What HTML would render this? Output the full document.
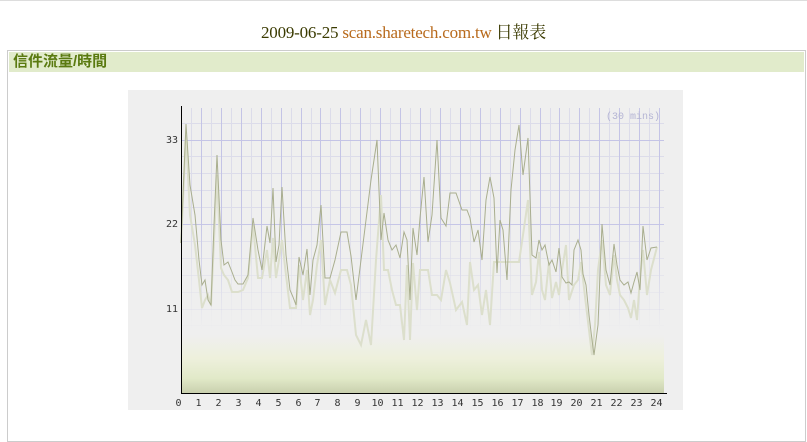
<!DOCTYPE html><html><head><style>
body{margin:0;background:#fff;width:807px;height:428px;overflow:hidden;font-family:"Liberation Serif","Noto Serif CJK SC",serif}
.top{position:absolute;left:0;top:0;width:807px;height:1px;background:#ddd}
.title{position:absolute;top:18px;left:0;width:807px;text-align:center;font-size:17px;color:#3a3a00;letter-spacing:-0.2px}
.title span{color:#b86a1c}
.box{position:absolute;left:7px;top:50px;width:797px;height:390px;border:1px solid #ccc}
.hdr{position:absolute;left:1px;top:1px;right:1px;height:20px;background:#e1ebcb;color:#5a7a10;font-weight:bold;font-size:15px;line-height:20px;padding-left:4px;font-family:"Liberation Sans","Noto Sans CJK TC",sans-serif}
svg{position:absolute;left:0;top:0}
</style></head><body>
<div class="top"></div>
<div class="title">2009-06-25 <span>scan.sharetech.com.tw</span> 日報表</div>
<div class="box"><div class="hdr">信件流量/時間</div></div>
<svg width="807" height="428">
<defs>
<linearGradient id="bg" x1="0" y1="0" x2="0" y2="1">
<stop offset="0" stop-color="#efefef"/><stop offset="0.4" stop-color="#eef0dc"/><stop offset="0.75" stop-color="#e1e9c8"/><stop offset="1" stop-color="#c9d0ae"/></linearGradient>
<linearGradient id="vma" x1="0" y1="0" x2="0" y2="1">
<stop offset="0" stop-color="#c4c4e6"/><stop offset="0.5" stop-color="#c4c4e6"/><stop offset="1" stop-color="#efefef"/></linearGradient>
<linearGradient id="vmi" x1="0" y1="0" x2="0" y2="1">
<stop offset="0" stop-color="#dcdcea"/><stop offset="0.5" stop-color="#dcdcea"/><stop offset="1" stop-color="#efefef"/></linearGradient>
</defs>
<rect x="128" y="90" width="555" height="320" fill="#efefef"/>
<rect x="182" y="335" width="482" height="58" fill="url(#bg)"/>
<g id="minor"></g>
<g id="major"></g>
<text x="660" y="119" font-family="Liberation Mono,monospace" font-size="10" fill="#b4b4d4" text-anchor="end">(30 mins)</text>
<polyline fill="none" stroke="#dcdfcc" stroke-width="2" points="181,243 186,135 190,215 195,245 199,280 202,308 205,300 208,295 211,305 214,240 217,175 221,268 224,275 228,280 232,292 238,292 243,290 248,278 253,225 258,278 262,278 267,250 270,278 273,238 276,278 279,260 282,240 286,275 290,308 296,308 299,265 303,300 307,270 310,315 313,300 317,265 321,240 325,305 330,280 335,293 341,270 347,270 351,285 356,335 361,345 366,320 371,345 376,260 381,195 384,270 388,270 392,290 396,305 400,305 404,340 407,265 410,340 413,263 417,310 420,270 428,270 432,295 437,295 441,300 446,270 450,283 456,310 462,302 467,325 470,262 474,290 478,285 482,315 486,290 490,325 494,262 519,262 523,235 528,200 532,295 536,282 539,252 542,290 545,300 549,262 552,298 556,282 559,295 562,270 566,245 569,300 574,285 578,280 581,262 586,305 589,330 592,355 595,325 598,270 602,240 606,285 610,295 614,255 617,280 620,295 624,300 628,308 631,318 634,300 637,320 640,278 643,250 647,295 651,270 657,247"/>
<polyline fill="none" stroke="#a9ae8e" stroke-width="1" points="181,243 186,124 190,185 195,215 199,260 202,285 205,280 208,300 211,305 214,225 217,155 221,240 224,265 228,262 232,272 235,280 238,284 243,284 248,275 253,218 258,250 262,270 267,226 270,243 273,188 276,262 279,245 282,187 286,255 290,290 293,297 296,305 299,257 303,275 307,249 310,295 313,260 317,245 321,205 325,278 330,278 335,260 341,232 347,232 351,256 356,300 361,260 366,220 371,180 377,140 381,240 384,213 388,240 392,250 396,245 400,258 404,232 407,240 410,300 413,228 417,255 420,218 424,177 428,242 432,215 437,140 441,218 446,226 450,193 456,193 462,210 467,210 470,218 474,242 478,230 482,260 486,200 490,177 494,198 497,273 500,220 503,230 507,280 511,190 515,150 519,125 523,175 528,138 532,255 536,258 539,240 542,250 545,245 549,265 552,260 556,272 559,248 562,277 566,283 569,282 572,285 574,250 578,240 581,250 583,274 586,285 589,315 592,340 594,355 598,325 602,224 606,270 610,285 614,244 617,265 620,280 624,285 628,282 631,293 634,282 637,272 640,290 643,226 647,260 651,248 657,247"/>
<line x1="181.5" y1="106" x2="181.5" y2="393" stroke="#000"/>
<line x1="181" y1="393.5" x2="667" y2="393.5" stroke="#000"/>
<g font-family="DejaVu Sans Mono,monospace" font-size="10" fill="#333" text-anchor="middle" id="lab">
<text x="172" y="143">33</text><text x="172" y="227">22</text><text x="172" y="312">11</text>
</g>
<script>
var ns="http://www.w3.org/2000/svg",mi=document.getElementById('minor'),ma=document.getElementById('major'),lb=document.getElementById('lab');
function R(g,x,y,w,h,f,o){var r=document.createElementNS(ns,'rect');r.setAttribute('x',x);r.setAttribute('y',y);r.setAttribute('width',w);r.setAttribute('height',h);r.setAttribute('fill',f);if(o!=null)r.setAttribute('fill-opacity',o);g.appendChild(r);}
for(var h=0;h<=24;h++){var x=Math.round(181+h*19.92);if(h>0)R(ma,x,108,1,222,'url(#vma)');if(h<24)R(mi,x+10,108,1,222,'url(#vmi)');
var t=document.createElementNS(ns,'text');t.setAttribute('x',x-2.5);t.setAttribute('y',406);t.textContent=h;lb.appendChild(t);}
for(var v=2.2;v<36;v+=2.2){var y=Math.round(393-v*7.68);if(y>330)continue;var o=y<220?1:Math.max(0,(330-y)/110);var maj=Math.abs(v%11)<0.01||Math.abs(v%11-11)<0.01;R(maj?ma:mi,182,y,482,1,maj?'#c4c4e6':'#dcdcea',o);}
</script>
</svg>
</body></html>
